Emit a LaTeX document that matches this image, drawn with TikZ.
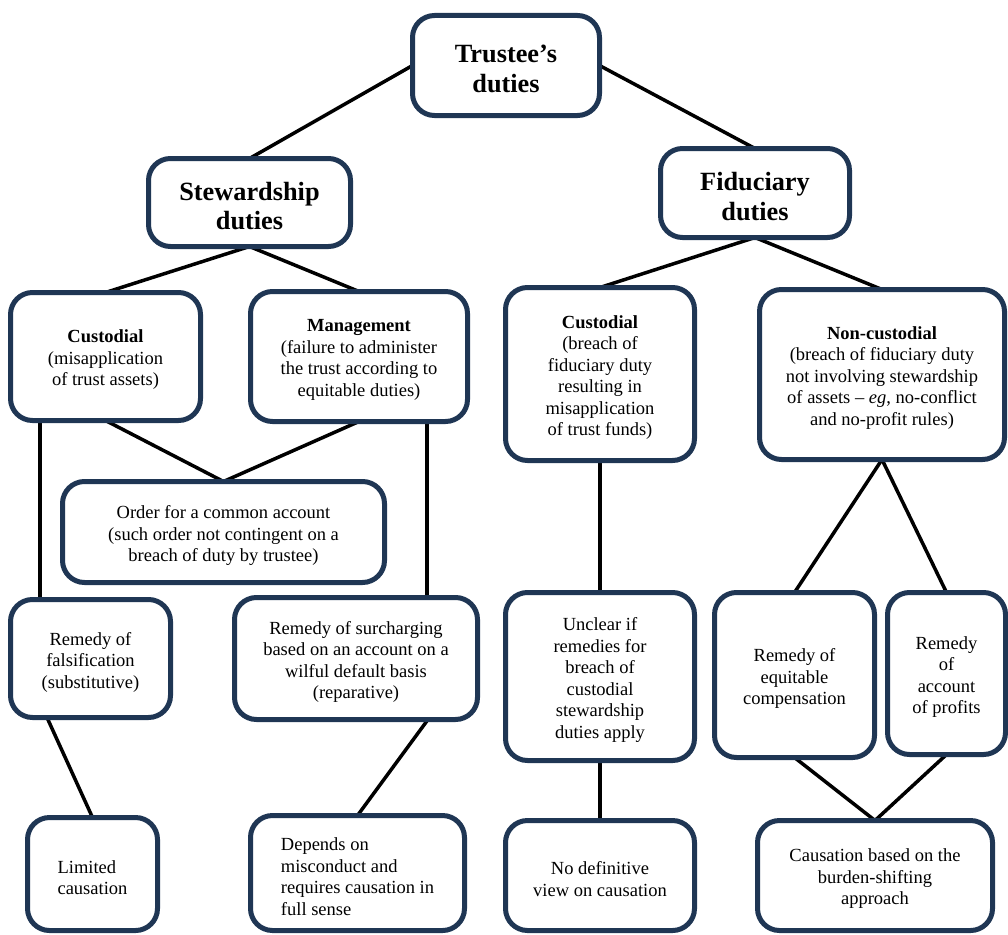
\documentclass[tikz,border=0pt]{standalone}
\usepackage{fontspec}
\setmainfont{Liberation Serif}
\usetikzlibrary{backgrounds}
\definecolor{boxc}{HTML}{1F3654}
\tikzset{
  box/.style={draw=boxc, line width=5pt, rounded corners=22pt, fill=white,
    inner sep=0pt, outer sep=0pt},
  bodytext/.style={align=center, inner sep=0pt, font=\fontsize{18.5}{21.5}\selectfont},
  headtext/.style={align=center, inner sep=0pt, font=\fontsize{26.3}{29.5}\selectfont\bfseries},
  link/.style={draw=black, line width=3.5pt},
}
% #1 text style, #2 name, #3 centre, #4 width, #5 height, #6 text
\newcommand\diagbox[6][bodytext]{%
  \node[box, minimum width=#4, minimum height=#5] (#2) at #3 {};
  \node[#1] (#2-text) at ([yshift=-3.5pt]#2.center) {#6};}
\begin{document}
\begin{tikzpicture}[x=1pt,y=-1pt]
\useasboundingbox (0,0) rectangle (1008,934);
% headings
\diagbox[headtext]{trustee}{(506,65.5)}{187pt}{100pt}{Trustee’s\\duties}
\diagbox[headtext]{stew}{(249.5,202.5)}{202pt}{88pt}{Stewardship\\duties}
\diagbox[headtext]{fid}{(755,193)}{189pt}{89pt}{Fiduciary\\duties}
% second level
\diagbox{custL}{(105.5,356.5)}{190pt}{128pt}{\textbf{Custodial}\\(misapplication\\of trust assets)}
\diagbox{mgmt}{(359,356.5)}{217pt}{130pt}{\textbf{Management}\\(failure to administer\\the trust according to\\equitable duties)}
\diagbox{order}{(223.5,532)}{322pt}{101pt}{Order for a common account\\(such order not contingent on a\\breach of duty by trustee)}
\diagbox{custR}{(600,374)}{189pt}{173pt}{\textbf{Custodial}\\(breach of\\fiduciary duty\\resulting in\\misapplication\\of trust funds)}
\diagbox{noncust}{(882,374.5)}{245pt}{170pt}{\textbf{Non-custodial}\\(breach of fiduciary duty\\not involving stewardship\\of assets -- \textit{eg}, no-conflict\\and no-profit rules)}
% remedies
\diagbox{fals}{(90.5,658.5)}{160pt}{118pt}{Remedy of\\falsification\\(substitutive)}
\diagbox{surch}{(356,658.5)}{243pt}{122pt}{Remedy of surcharging\\based on an account on a\\wilful default basis\\(reparative)}
\diagbox{unclear}{(600,676.5)}{189pt}{168pt}{Unclear if\\remedies for\\breach of\\custodial\\stewardship\\duties apply}
\diagbox{equit}{(794.5,675)}{160pt}{165pt}{Remedy of\\equitable\\compensation}
\diagbox{account}{(946.5,673.5)}{118pt}{162pt}{Remedy\\of\\account\\of profits}
% causation
\diagbox[bodytext, align=left]{limited}{(92.5,874)}{130pt}{113pt}{Limited\\causation}
\diagbox[bodytext, align=left]{depends}{(357.5,873)}{214pt}{115pt}{Depends on\\misconduct and\\requires causation in\\full sense}
\diagbox{nodef}{(600,875.5)}{189pt}{110pt}{No definitive\\view on causation}
\diagbox{causation}{(875,875.5)}{235pt}{110pt}{Causation based on the\\burden-shifting\\approach}
% connectors
\begin{scope}[on background layer]
\draw[link] (trustee.west) -- (stew.north);
\draw[link] (trustee.east) -- (fid.north);
\draw[link] (stew.south) -- (custL.north);
\draw[link] (stew.south) -- (mgmt.north);
\draw[link] (fid.south) -- (custR.north);
\draw[link] (fid.south) -- (noncust.north);
\draw[link] (custL.south) -- (order.north);
\draw[link] (mgmt.south) -- (order.north);
\coordinate (c1) at ([xshift=29.5pt]custL.south west);
\draw[link] (c1) -- (c1 |- fals.north);
\coordinate (c2) at ([xshift=-40.5pt]mgmt.south east);
\draw[link] (c2) -- (c2 |- surch.north);
\coordinate (c3) at ([xshift=36.5pt]fals.south west);
\draw[link] (c3) -- (limited.north);
\coordinate (c4) at ([xshift=-49.5pt]surch.south east);
\draw[link] (c4) -- (depends.north);
\draw[link] (custR.south) -- (unclear.north);
\draw[link] (unclear.south) -- (nodef.north);
\draw[link] (noncust.south) -- (equit.north);
\draw[link] (noncust.south) -- (account.north);
\draw[link] (equit.south) -- (causation.north);
\draw[link] (account.south) -- (causation.north);
\end{scope}
\end{tikzpicture}
\end{document}
